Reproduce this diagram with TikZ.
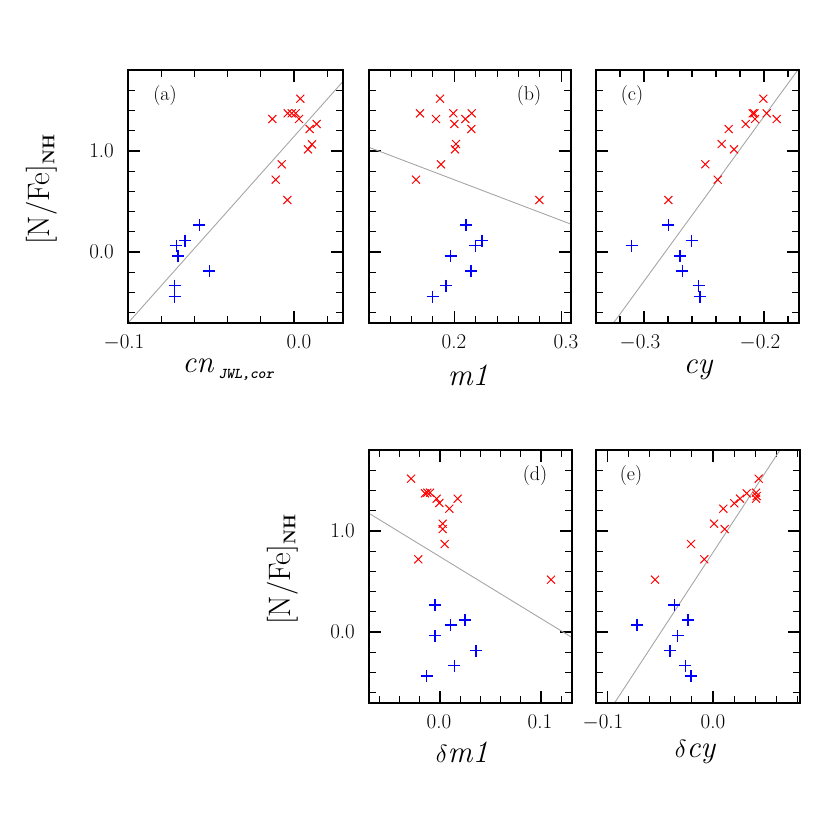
\documentclass[tikz,border=0pt]{standalone}
\usepackage{fontspec}
\begin{document}
\begin{tikzpicture}[x=1pt,y=-1pt,
  frame/.style={draw=black,line width=1.2pt},
  tk/.style={line width=1.1pt},
  fit/.style={draw=black!35,line width=0.9pt},
  xmk/.style={draw=red,line width=1pt},
  pmk/.style={draw=blue,line width=1.2pt},
  tlab/.style={font=\fontsize{21}{21}\selectfont,inner sep=0pt},
  plab/.style={font=\fontsize{20}{20}\selectfont,inner sep=0pt},
  alab/.style={font=\fontsize{31}{31}\selectfont,inner sep=0pt}]
\useasboundingbox (0,0) rectangle (830,830);
% ---------- y ticks
\foreach \L/\R/\T/\B/\Z in {128/343/70/323/252, 369/571/70/323/252, 596/799/70/323/252, 369/572/450/703/632, 596/800/450/703/632}{
  \foreach \v in {-0.6,-0.4,-0.2,0.2,0.4,0.6,0.8,1.2,1.4,1.6}{
    \draw[tk] (\L,\Z-101*\v) -- ++(7,0) (\R,\Z-101*\v) -- ++(-7,0);}
  \foreach \v in {0,1}{
    \draw[tk] (\L,\Z-101*\v) -- ++(12,0) (\R,\Z-101*\v) -- ++(-12,0);}
}
% x ticks
\foreach \X in {161.2,194.4,227.6,260.8,327.2}{\draw[tk] (\X,323) -- ++(0,-7) (\X,70) -- ++(0,7);}
\draw[tk] (294,323) -- ++(0,-12) (294,70) -- ++(0,12);
\foreach \X in {390.1,411.5,432.9,475.7,497.1,518.5,539.9}{\draw[tk] (\X,323) -- ++(0,-7) (\X,70) -- ++(0,7);}
\foreach \X in {454.3,561.3}{\draw[tk] (\X,323) -- ++(0,-12) (\X,70) -- ++(0,12);}
\foreach \X in {620,668,692,716,740,788}{\draw[tk] (\X,323) -- ++(0,-7) (\X,70) -- ++(0,7);}
\foreach \X in {644,764}{\draw[tk] (\X,323) -- ++(0,-12) (\X,70) -- ++(0,12);}
\foreach \X in {379.4,399.6,419.8,460.2,480.4,500.6,520.8,561.2}{\draw[tk] (\X,703) -- ++(0,-7) (\X,450) -- ++(0,7);}
\foreach \X in {440,541}{\draw[tk] (\X,703) -- ++(0,-12) (\X,450) -- ++(0,12);}
\foreach \X in {628.6,649.7,670.8,691.9,734.1,755.2,776.3,797.4}{\draw[tk] (\X,703) -- ++(0,-7) (\X,450) -- ++(0,7);}
\foreach \X in {607.5,713}{\draw[tk] (\X,703) -- ++(0,-12) (\X,450) -- ++(0,12);}
% fit lines
\draw[fit] (128.3,322.7) -- (342.5,82);
\draw[fit] (369,147.3) -- (571.3,224.3);
\draw[fit] (613.3,323.3) -- (797.3,70.7);
\draw[fit] (369,513.3) -- (571.7,637.3);
\draw[fit] (614.3,703.3) -- (780,450);
% frames
\draw[frame] (128,70) rectangle (343,323);
\draw[frame] (369,70) rectangle (571,323);
\draw[frame] (596,70) rectangle (799,323);
\draw[frame] (369,450) rectangle (572,703);
\draw[frame] (596,450) rectangle (800,703);
% red crosses
\foreach \a/\b in {272.3/119,287.7/113.3,291.7/113.3,295.7/113.3,300.3/98.7,299/119,309.7/129,316.7/124,308/149.3,312/144.3,281.7/164.3,275.7/179.7,287.3/200,
 440/98.7,420/113.3,436/119,453.3/113.3,454.3/124,471.7/113.3,465.3/119,471.3/129,456/144,455/149.3,441/164.3,416/179.7,539.3/200,
 763.3/98.7,752.7/113.3,754.3/113.3,766.7/113.3,755/119,776.7/119,745.7/124,728.7/129,721.7/144,734/149.3,705.3/164.3,717.7/179.7,668.3/200,
 411/478.7,425/493.3,427.3/492.7,430/492.7,436.7/498.7,439.3/503,457.7/498.7,449.3/508.7,442.7/523.7,442.7/529,444.7/544,418.3/559.3,551/579.7,
 758.7/478.7,746.7/493.3,756/492.7,756/498.7,756.7/496,740/498.7,734.3/503.3,723.3/508.7,714/523.7,724.7/529,691/544,704.3/559.3,655/579.7}
  \draw[xmk] (\a-4,\b-4) -- (\a+4,\b+4) (\a-4,\b+4) -- (\a+4,\b-4);
% blue pluses
\foreach \a/\b in {199.3/225,185/240.7,176.3/245.7,178/256,209.3/271,174.7/285.7,174.7/296.7,
 466/225,482/240.7,475.3/245.7,450.7/256,471/271,446/285.7,432.7/296.7,
 668.3/225,631.7/245.7,691.7/240.7,680/256,682.3/271,698.7/285.7,700/296.7,
 435/605,450.7/625,465/620,435/635.7,476/650.7,454.3/665.7,426.7/676,
 674.3/605,637/625,688/620,677.7/635.7,670/650.7,685.3/665.7,691/676}
  \draw[pmk] (\a-6,\b) -- (\a+6,\b) (\a,\b-6) -- (\a,\b+6);
% panel labels
\node[plab] (la) at (165,96) {(a)};
\node[plab] (lb) at (529,96) {(b)};
\node[plab] (lc) at (632,96) {(c)};
\node[plab] (ld) at (535,476) {(d)};
\node[plab] (le) at (631,476) {(e)};
% tick labels
\node[tlab] (ta1) at (124,342) {$-$0.1};
\node[tlab] (ta2) at (299,342) {0.0};
\node[tlab] (tb1) at (454,342) {0.2};
\node[tlab] (tb2) at (566,342) {0.3};
\node[tlab] (tc1) at (640,342) {$-$0.3};
\node[tlab] (tc2) at (760,342) {$-$0.2};
\node[tlab] (td1) at (439,722) {0.0};
\node[tlab] (td2) at (540,722) {0.1};
\node[tlab] (te1) at (603,722) {$-$0.1};
\node[tlab] (te2) at (713,722) {0.0};
\node[tlab,anchor=east] (ya1) at (114,151) {1.0};
\node[tlab,anchor=east] (ya0) at (114,252) {0.0};
\node[tlab,anchor=east] (yd1) at (355,531) {1.0};
\node[tlab,anchor=east] (yd0) at (355,632) {0.0};
% axis labels
\node[alab,rotate=90] (ny1) at (42,190) {[N/Fe]\raisebox{-0.35ex}{\fontsize{17}{17}\selectfont\bfseries NH}};
\node[alab,rotate=90] (ny2) at (283,570) {[N/Fe]\raisebox{-0.35ex}{\fontsize{17}{17}\selectfont\bfseries NH}};
\node[alab] (xa) at (228,370) {\itshape cn\,\raisebox{-0.45ex}{\fontsize{15}{15}\selectfont\ttfamily\bfseries JWL,cor}};
\node[alab] (xb) at (468,375) {\itshape m1};
\node[alab] (xc) at (698,370) {\itshape cy};
\node[alab] (xd) at (462,752) {$\delta$\itshape m1};
\node[alab] (xe) at (695,752) {$\delta$\itshape cy};
\end{tikzpicture}
\end{document}
